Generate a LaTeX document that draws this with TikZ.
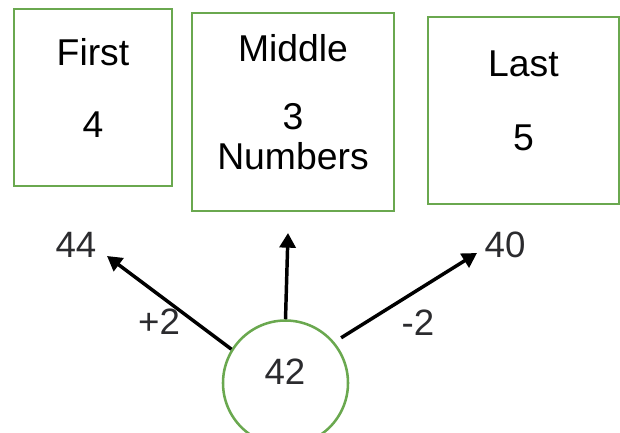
\documentclass[tikz,border=0pt]{standalone}
\usepackage{fontspec}
\setmainfont{Liberation Sans}
\usetikzlibrary{positioning, arrows.meta}

\definecolor{boxgreen}{RGB}{106,168,79}
\definecolor{numgray}{RGB}{43,43,46}

% extra depth under the last line lifts the text a little inside its box
\newcommand{\bottompad}{\rule[-15pt]{0pt}{0pt}}

\tikzset{
  part/.style={rectangle, draw=boxgreen, line width=2.2pt, align=center,
    inner sep=0pt, font=\fontsize{28}{30}\selectfont},
  hub/.style={circle, draw=boxgreen, line width=1.9pt, minimum size=93.75pt,
    inner sep=0pt},
  num/.style={text=numgray, inner sep=0pt, font=\fontsize{27.5}{32}\selectfont},
  move/.style={-{Triangle[length=11pt,width=12pt]}, line width=2.6pt},
}

\begin{document}
\begin{tikzpicture}[x=0.75pt, y=-0.75pt]
        \useasboundingbox (0,0) rectangle (620,432);
        \clip (0,0) rectangle (620,432);

        % the three parts
        \node[part, minimum width=118.5pt, minimum height=132.75pt](first) at (93,97.5){First\\[24pt]4\bottompad};
        \node[part, minimum width=151.5pt, minimum height=148.5pt](middle) at (293,112){Middle\\[21pt]3\\Numbers\bottompad};
        \node[part, minimum width=143.25pt, minimum height=140.25pt](last) at (523.5,110.5){Last\\[26pt]5\bottompad};

        % the start number and where it goes
        \node[hub](start) at (285.5,383){};
        \node[num](startnum) at (285,372){42};
        \node[num](up) at (76,245){44};
        \node[num](down) at (505,245){40};

        \coordinate (tipup) at (107,256);
        \coordinate (tipmid) at (288,233);
        \coordinate (tipdown) at (477,253);

        \draw[move] (start.148) -- (tipup);
        \draw[move] (start.north) -- (tipmid);
        \draw[move, shorten <=6pt] (start.40) -- (tipdown);

        \node[num](plustwo) at (159,322){+2};
        \node[num](minustwo) at (418,323){-2};
    \end{tikzpicture}
\end{document}
